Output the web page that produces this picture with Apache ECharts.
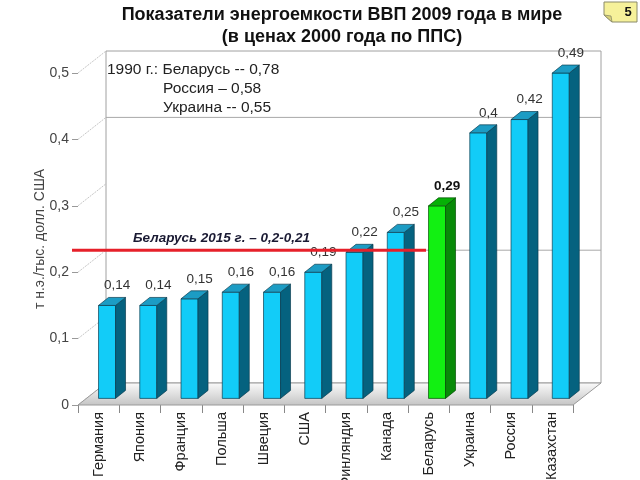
<!DOCTYPE html>
<html><head><meta charset="utf-8">
<script src="https://cdn.jsdelivr.net/npm/echarts@6/dist/echarts.min.js"></script>
<style>html,body{margin:0;padding:0;background:#fff}#c{width:640px;height:480px}</style>
</head><body><div id="c"></div>
<script>
const categories = ['Германия','Япония','Франция','Польша','Швеция','США','Финляндия','Канада','Беларусь','Украина','Россия','Казахстан'];
const values = [0.14,0.14,0.15,0.16,0.16,0.19,0.22,0.25,0.29,0.40,0.42,0.49];
const highlightIndex = 8;
const wallGridValues = [0.2, 0.4];
const targetValue = 0.2;
const targetLabel = 'Беларусь 2015 г. – 0,2-0,21';
const noteLines = ['1990 г.: Беларусь -- 0,78', 'Россия – 0,58', 'Украина -- 0,55'];
const titleLines = ['Показатели энергоемкости ВВП 2009 года в мире', '(в ценах 2000 года по ППС)'];
const yAxisName = 'т н.э./тыс. долл. США';
const slideNumber = '5';

const FONT = '"Liberation Sans", Arial, sans-serif';
const DX = 28, DY = -22;       // full depth offset
const BF = 0.3;                // bar front position in depth
const BW = 17, BDX = 10, BDY = -8;
const fmt = v => String(v).replace('.', ',');

const chart = echarts.init(document.getElementById('c'));

function decorRender(params, api) {
  const bw = api.size([1, 0])[0];
  const p0 = api.coord([0, 0]);
  const pTop = api.coord([0, 0.5]);
  const pLast = api.coord([categories.length - 1, 0]);
  const fl = p0[0] - bw / 2, fr = pLast[0] + bw / 2;
  const fy0 = p0[1], fyT = pTop[1];
  const bl = fl + DX, br = fr + DX, by0 = fy0 + DY, byT = fyT + DY;
  const ch = [];
  ch.push({type: 'rect', shape: {x: bl, y: byT, width: br - bl, height: by0 - byT},
    style: {fill: '#fff', stroke: '#a0a0a0', lineWidth: 1}});
  wallGridValues.forEach(v => {
    const y = api.coord([0, v])[1] + DY;
    ch.push({type: 'line', shape: {x1: bl, y1: y, x2: br, y2: y}, style: {stroke: '#a8a8a8', lineWidth: 1}});
  });
  for (let v = 0; v <= 0.5001; v += 0.1) {
    const y = api.coord([0, v])[1];
    ch.push({type: 'line', shape: {x1: fl, y1: y, x2: bl, y2: y + DY},
      style: {stroke: '#b8b8b8', lineWidth: 0.8, lineDash: [2, 1]}});
  }
  ch.push({type: 'polygon', shape: {points: [[fl, fy0], [fr, fy0], [br, by0], [bl, by0]]},
    style: {fill: new echarts.graphic.LinearGradient(0, 0, 0, 1, [{offset: 0, color: '#fbfbfb'}, {offset: 1, color: '#c4c4c4'}]),
      stroke: '#9a9a9a', lineWidth: 1}});
  const nf = '15.5px ' + FONT;
  ch.push({type: 'text', style: {x: bl + 1, y: byT + 19, text: noteLines[0], font: nf, fill: '#222', verticalAlign: 'middle'}});
  ch.push({type: 'text', style: {x: bl + 57, y: byT + 38, text: noteLines[1], font: nf, fill: '#222', verticalAlign: 'middle'}});
  ch.push({type: 'text', style: {x: bl + 57, y: byT + 57, text: noteLines[2], font: nf, fill: '#222', verticalAlign: 'middle'}});
  return {type: 'group', children: ch};
}

function barRender(params, api) {
  const i = api.value(0), v = api.value(1);
  const top = api.coord([i, v]), base = api.coord([i, 0]);
  const cx = top[0] + DX * BF;
  const yt = top[1] + DY * BF, yb = base[1] + DY * BF;
  const xl = cx - BW / 2, xr = cx + BW / 2;
  const hi = i === highlightIndex;
  const cFront = hi ? '#12f012' : '#12ccf8';
  const cSide = hi ? '#088a08' : '#05627f';
  const cTop = hi ? '#06b006' : '#1c9cc4';
  const stroke = hi ? '#064d06' : '#0b3d50';
  return {type: 'group', children: [
    {type: 'rect', shape: {x: xl, y: yt, width: BW, height: yb - yt}, style: {fill: cFront, stroke: stroke, lineWidth: 0.7}},
    {type: 'polygon', shape: {points: [[xr, yt], [xr + BDX, yt + BDY], [xr + BDX, yb + BDY], [xr, yb]]}, style: {fill: cSide, stroke: stroke, lineWidth: 0.7}},
    {type: 'polygon', shape: {points: [[xl, yt], [xl + BDX, yt + BDY], [xr + BDX, yt + BDY], [xr, yt]]}, style: {fill: cTop, stroke: stroke, lineWidth: 0.7}},
    {type: 'text', style: {x: cx + BDX, y: yt + BDY - 5, text: fmt(v), align: 'center', verticalAlign: 'bottom',
      font: (hi ? 'bold ' : '') + '13.5px ' + FONT, fill: hi ? '#111' : '#333'}}
  ]};
}

function targetRender(params, api) {
  const bw = api.size([1, 0])[0];
  const p = api.coord([0, targetValue]);
  const fl = p[0] - bw / 2;
  const y = p[1] + DY;
  const xEnd = api.coord([highlightIndex, 0])[0] - bw / 2 + 18;
  return {type: 'group', children: [
    {type: 'line', shape: {x1: fl - 6, y1: y, x2: xEnd, y2: y}, style: {stroke: '#e6202a', lineWidth: 3}},
    {type: 'text', style: {x: fl + 55, y: y - 12, text: targetLabel, verticalAlign: 'middle',
      font: 'italic bold 13.5px ' + FONT, fill: '#1a1a33'}}
  ]};
}

chart.setOption({
  animation: false,
  backgroundColor: '#fff',
  grid: {left: 78, right: 67, top: 73, bottom: 75, containLabel: false, outerBoundsMode: 'none'},
  xAxis: {
    type: 'category', data: categories,
    axisLine: {show: false},
    axisTick: {show: true, length: 8, lineStyle: {color: '#888'}},
    axisLabel: {rotate: 90, margin: 7, fontSize: 14.5, color: '#222', fontFamily: FONT}
  },
  yAxis: {
    type: 'value', min: 0, max: 0.5, interval: 0.1,
    name: yAxisName, nameLocation: 'middle', nameGap: 31, nameRotate: 90, nameMoveOverlap: false,
    nameTextStyle: {fontSize: 14, color: '#444', fontFamily: FONT},
    axisLine: {show: false},
    axisTick: {show: true, length: 6, lineStyle: {color: '#999'}},
    splitLine: {show: false},
    axisLabel: {formatter: v => fmt(+v.toFixed(1)), margin: 9, fontSize: 14, color: '#444', fontFamily: FONT}
  },
  series: [
    {type: 'custom', name: 'decor', z: 1, clip: false, silent: true, renderItem: decorRender, data: [[0, 0]]},
    {type: 'custom', name: 'bars', z: 2, clip: false, renderItem: barRender,
      data: values.map((v, i) => [i, v])},
    {type: 'custom', name: 'target', z: 3, clip: false, silent: true, renderItem: targetRender, data: [[0, targetValue]]}
  ],
  graphic: [
    {type: 'text', x: 342, y: 15, style: {text: titleLines[0], align: 'center', verticalAlign: 'middle', font: 'bold 18px ' + FONT, fill: '#111'}},
    {type: 'text', x: 342, y: 37, style: {text: titleLines[1], align: 'center', verticalAlign: 'middle', font: 'bold 18px ' + FONT, fill: '#111'}},
    {type: 'polygon', shape: {points: [[604, 2], [637, 2], [637, 22], [612, 22], [604, 15]]}, style: {fill: '#f6f19a', stroke: '#8a8a6a', lineWidth: 1}},
    {type: 'polygon', shape: {points: [[604, 15], [611, 16], [612, 22]]}, style: {fill: '#d8d27a', stroke: '#8a8a6a', lineWidth: 0.8}},
    {type: 'text', x: 628, y: 12, style: {text: slideNumber, align: 'center', verticalAlign: 'middle', font: 'bold 13px ' + FONT, fill: '#111'}}
  ]
});
</script>
</body></html>
